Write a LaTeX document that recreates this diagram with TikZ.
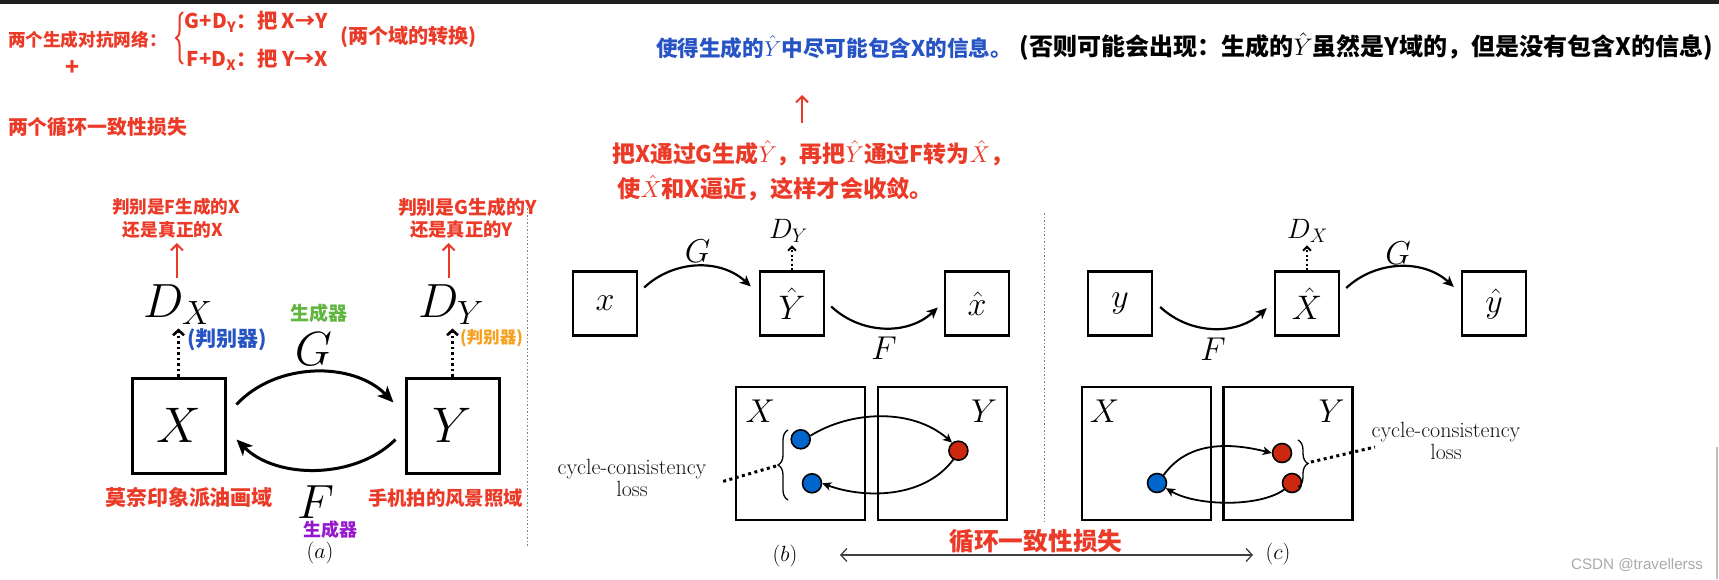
\RequirePackage{fix-cm}
\documentclass[tikz,border=0pt]{standalone}
\usepackage{fontspec}
\newfontfamily\cjk{Noto Sans CJK SC}
\newfontfamily\wmk{Liberation Sans}
\usetikzlibrary{arrows.meta,calc,decorations.pathreplacing}
\definecolor{hred}{RGB}{236,58,40}
\definecolor{hblue}{RGB}{38,84,196}
\definecolor{horange}{RGB}{246,160,30}
\definecolor{hgreen}{RGB}{96,182,62}
\definecolor{hpurple}{RGB}{150,24,204}
\definecolor{dotblue}{RGB}{0,102,204}
\definecolor{dotred}{RGB}{204,40,16}
\newcommand{\hw}[2]{\resizebox{#1pt}{!}{\cjk\bfseries #2}}
\newcommand{\fs}[1]{\fontsize{#1}{#1}\selectfont}
\begin{document}
\begin{tikzpicture}[x=1pt,y=-1pt,
  hand/.style={inner sep=0pt},
  bigbox/.style={draw,line width=3pt,minimum width=93pt,minimum height=95pt,inner sep=0pt,font=\fs{50}},
  smbox/.style={draw,line width=2.4pt,minimum size=64pt,inner sep=0pt,font=\fs{34}},
  dombox/.style={draw,line width=2.4pt,minimum width=129pt,minimum height=133pt,inner sep=0pt},
  mlab/.style={inner sep=0pt,font=\fs{#1}},
  arrA/.style={line width=3pt,-{Stealth[length=16pt,width=14pt,inset=4pt]}},
  arrB/.style={line width=2.2pt,-{Stealth[length=11pt,width=10pt,inset=3pt]}},
  arrC/.style={line width=1.8pt,-{Stealth[length=9pt,width=8.5pt,inset=2.5pt]}},
  dotA/.style={line width=2.6pt,dash pattern=on 2.5pt off 3pt,-{Straight Barb[length=5pt,width=11pt]}},
  dotB/.style={line width=2pt,dash pattern=on 2pt off 2.5pt,-{Straight Barb[length=4pt,width=8pt]}},
  redarr/.style={hred,line width=2pt,-{Straight Barb[length=6pt,width=12pt]}},
  dblarr/.style={black!75,line width=1.3pt,{Straight Barb[length=6pt,width=13pt]}-{Straight Barb[length=6pt,width=13pt]}},
  lossdot/.style={line width=3pt,dash pattern=on 3pt off 3.5pt},
  vsep/.style={black!50,line width=1pt,dash pattern=on 1.5pt off 2pt},
  brc/.style={line width=1.3pt,decorate,decoration={brace,amplitude=10pt}},
  bdot/.style={circle,draw,line width=1.6pt,fill=dotblue,minimum size=19pt,inner sep=0pt},
  rdot/.style={circle,draw,line width=1.6pt,fill=dotred,minimum size=19pt,inner sep=0pt},
  lossfont/.style={align=center,inner sep=0pt,text=black!92,font=\fontsize{22}{22.5}\selectfont}
]
\path[use as bounding box,fill=white] (0,0) rectangle (1719,579);
\fill[black!88] (0,0) rectangle (1719,3.5);
\draw[black!25,line width=1.2pt] (1717,447) -- (1717,579);

% ---------- top-left notes
\node[hand,text=hred] (t1) at (87.5,40) {\hw{159}{两个生成对抗网络：}};
\draw[hred,line width=2pt,decorate,decoration={brace,amplitude=7pt}] (183,64) -- (183,12);
\node[hand,text=hred] (t2) at (256.5,22) {\hw{143}{G+D\textsubscript{Y}：把 X→Y}};
\node[hand,text=hred] (t3) at (257.5,60) {\hw{141}{F+D\textsubscript{X}：把 Y→X}};
\node[hand,text=hred] (t4) at (408.5,37) {\hw{137}{(两个域的转换)}};
\node[hand,text=hred] (t5) at (72,68) {\hw{14}{+}};
\node[hand,text=hred] (t6) at (97.5,127) {\hw{179}{两个循环一致性损失}};

% ---------- top-middle notes
\node[hand,text=hblue] (t7) at (834,47) {\hw{356}{使得生成的$\hat{Y}$中尽可能包含X的信息。}};
\node[hand,text=black] (t8) at (1366.5,47) {\hw{693}{(否则可能会出现：生成的$\hat{Y}$虽然是Y域的，但是没有包含X的信息)}};
\coordinate (ua) at (802,123);
\coordinate (ub) at (802,95);
\draw[redarr] (ua) -- (ub);
\node[hand,text=hred,anchor=west] (t9) at (612,153) {\hw{401}{把X通过G生成$\hat{Y}$，再把$\hat{Y}$通过F转为$\hat{X}$，}};
\node[hand,text=hred,anchor=west] (t10) at (617,188) {\hw{316}{使$\hat{X}$和X逼近，这样才会收敛。}};

% ---------- panel (a)
\node[bigbox] (X) at (178.5,425.5) {$X$};
\node[bigbox] (Y) at (452.5,425.5) {$Y$};
\node[anchor=base west,mlab=48] (DX) at (143,317) {$D_X$};
\node[anchor=base west,mlab=48] (DY) at (418,317) {$D_Y$};
\node[mlab=48] (G) at (313.5,349) {$G$};
\node[mlab=48] (F) at (315.5,502) {$F$};
\draw[arrA] ($(X.east)+(10,-21)$) .. controls +(40,-43) and +(-40,-41) .. ($(Y.west)+(-11,-23)$);
\draw[arrA] ($(Y.west)+(-9,14)$) .. controls +(-40,40) and +(40,40) .. ($(X.east)+(10,14)$);
\draw[dotA] (X.north) -- ($(X.north)+(0,-48)$);
\draw[dotA] (Y.north) -- ($(Y.north)+(0,-48)$);
\draw[redarr] ($(DX.north)+(-1,-6)$) -- ($(DX.north)+(-1,-41)$);
\draw[redarr] ($(DY.north)+(-2.5,-6)$) -- ($(DY.north)+(-2.5,-41)$);
\node[hand,text=hred] (ra1) at (176,207) {\hw{128}{判别是F生成的X}};
\node[hand,text=hred] (ra2) at (173,230) {\hw{100}{还是真正的X}};
\node[hand,text=hred] (rb1) at (467.5,207) {\hw{139}{判别是G生成的Y}};
\node[hand,text=hred] (rb2) at (461.5,230) {\hw{103}{还是真正的Y}};
\node[hand,text=hblue] (jx) at (227,340) {\hw{80}{(判别器)}};
\node[hand,text=horange] (jy) at (491.5,338) {\hw{63}{(判别器)}};
\node[hand,text=hgreen] (sg) at (318.5,313) {\hw{57}{生成器}};
\node[hand,text=hpurple] (sf) at (330,530) {\hw{54}{生成器}};
\node[hand,text=hred] (dxn) at (189,498) {\hw{168}{莫奈印象派油画域}};
\node[hand,text=hred] (dyn) at (445.5,498) {\hw{155}{手机拍的风景照域}};
\node[mlab=22] (la) at (320,553) {$(a)$};
\draw[vsep] (527,208) -- (527,547);

% ---------- panel (b)
\node[smbox] (xb) at (605,303.5) {$x$};
\node[smbox] (Yb) at (792,303.5) {$\hat{Y}$};
\node[smbox] (xhb) at (977,303.5) {$\hat{x}$};
\node[anchor=base west,mlab=28] (DYb) at (769,238) {$D_Y$};
\draw[dotB] (Yb.north) -- ($(Yb.north)+(0,-25)$);
\draw[arrB] ($(xb.east)+(6,-16)$) .. controls +(30,-28) and +(-30,-28) .. ($(Yb.west)+(-8,-17)$);
\draw[arrB] ($(Yb.east)+(6,3)$) .. controls +(30,28) and +(-30,28) .. ($(xhb.west)+(-6,4)$);
\node[mlab=33] (Gb) at (697.7,251.5) {$G$};
\node[mlab=33] (Fb) at (884,348) {$F$};
\node[dombox] (XDb) at (800.5,453.5) {};
\node[dombox] (YDb) at (942.5,453.5) {};
\node[mlab=33] (XLb) at (760.4,411) {$X$};
\node[mlab=33] (YLb) at (984.2,411) {$Y$};
\node[bdot] (b1) at (800.7,439.3) {};
\node[bdot] (b2) at (812,483.3) {};
\node[rdot] (r1) at (958.4,450.7) {};
\draw[arrC] (b1.20) .. controls +(40,-25) and +(-40,-35) .. (r1.128);
\draw[arrC] (r1.240) .. controls +(-30,40) and +(40,15) .. (b2.east);
\draw[brc] (788,500) -- (788,430);
\coordinate (bt) at (776,466);
\coordinate (be) at (721,482);
\draw[lossdot] (bt) -- (be);
\node[lossfont] (lossb) at (632,478) {cycle-consistency\\loss};
\node[mlab=22] (lb) at (785,556) {$(b)$};
\draw[vsep] (1044.5,213) -- (1044.5,522);

% ---------- panel (c)
\node[smbox] (yc) at (1120,303.5) {$y$};
\node[smbox] (Xc) at (1307,303.5) {$\hat{X}$};
\node[smbox] (yhc) at (1494,303.5) {$\hat{y}$};
\node[anchor=base west,mlab=28] (DXc) at (1287,238) {$D_X$};
\draw[dotB] (Xc.north) -- ($(Xc.north)+(0,-25)$);
\draw[arrB] ($(yc.east)+(7,3.5)$) .. controls +(30,28) and +(-30,28) .. ($(Xc.west)+(-7,4.5)$);
\draw[arrB] ($(Xc.east)+(6,-15.5)$) .. controls +(30,-28) and +(-30,-28) .. ($(yhc.west)+(-7,-16.5)$);
\node[mlab=33] (Fc) at (1213,349) {$F$};
\node[mlab=33] (Gc) at (1398,253) {$G$};
\node[dombox] (XDc) at (1146.5,453.5) {};
\node[dombox] (YDc) at (1288,453.5) {};
\node[mlab=33] (XLc) at (1104.5,411) {$X$};
\node[mlab=33] (YLc) at (1331.5,411) {$Y$};
\node[bdot] (c1) at (1157,483) {};
\node[rdot] (c2) at (1282,453) {};
\node[rdot] (c3) at (1292,483) {};
\draw[arrC] (c1.50) .. controls +(25,-35) and +(-40,-10) .. (c2.west);
\draw[arrC] (c3.220) .. controls +(-25,18) and +(30,18) .. (c1.-30);
\draw[brc] (1298,440) -- (1298,487);
\coordinate (ct) at (1311,462);
\coordinate (ce) at (1375,447);
\draw[lossdot] (ct) -- (ce);
\node[lossfont] (lossc) at (1446,441) {cycle-consistency\\loss};
\node[mlab=22] (lc) at (1278,554) {$(c)$};

% ---------- bottom arrow
\coordinate (dl) at (840,555);
\coordinate (dr) at (1253,555);
\draw[dblarr] (dl) -- (dr);
\node[hand,text=hred] (t20) at (1036,541) {\hw{173}{循环一致性损失}};

\node[inner sep=0pt,text=black!33,font=\wmk\fs{15.2}] (wm) at (1637,565) {CSDN @travellerss};
\end{tikzpicture}
\end{document}
